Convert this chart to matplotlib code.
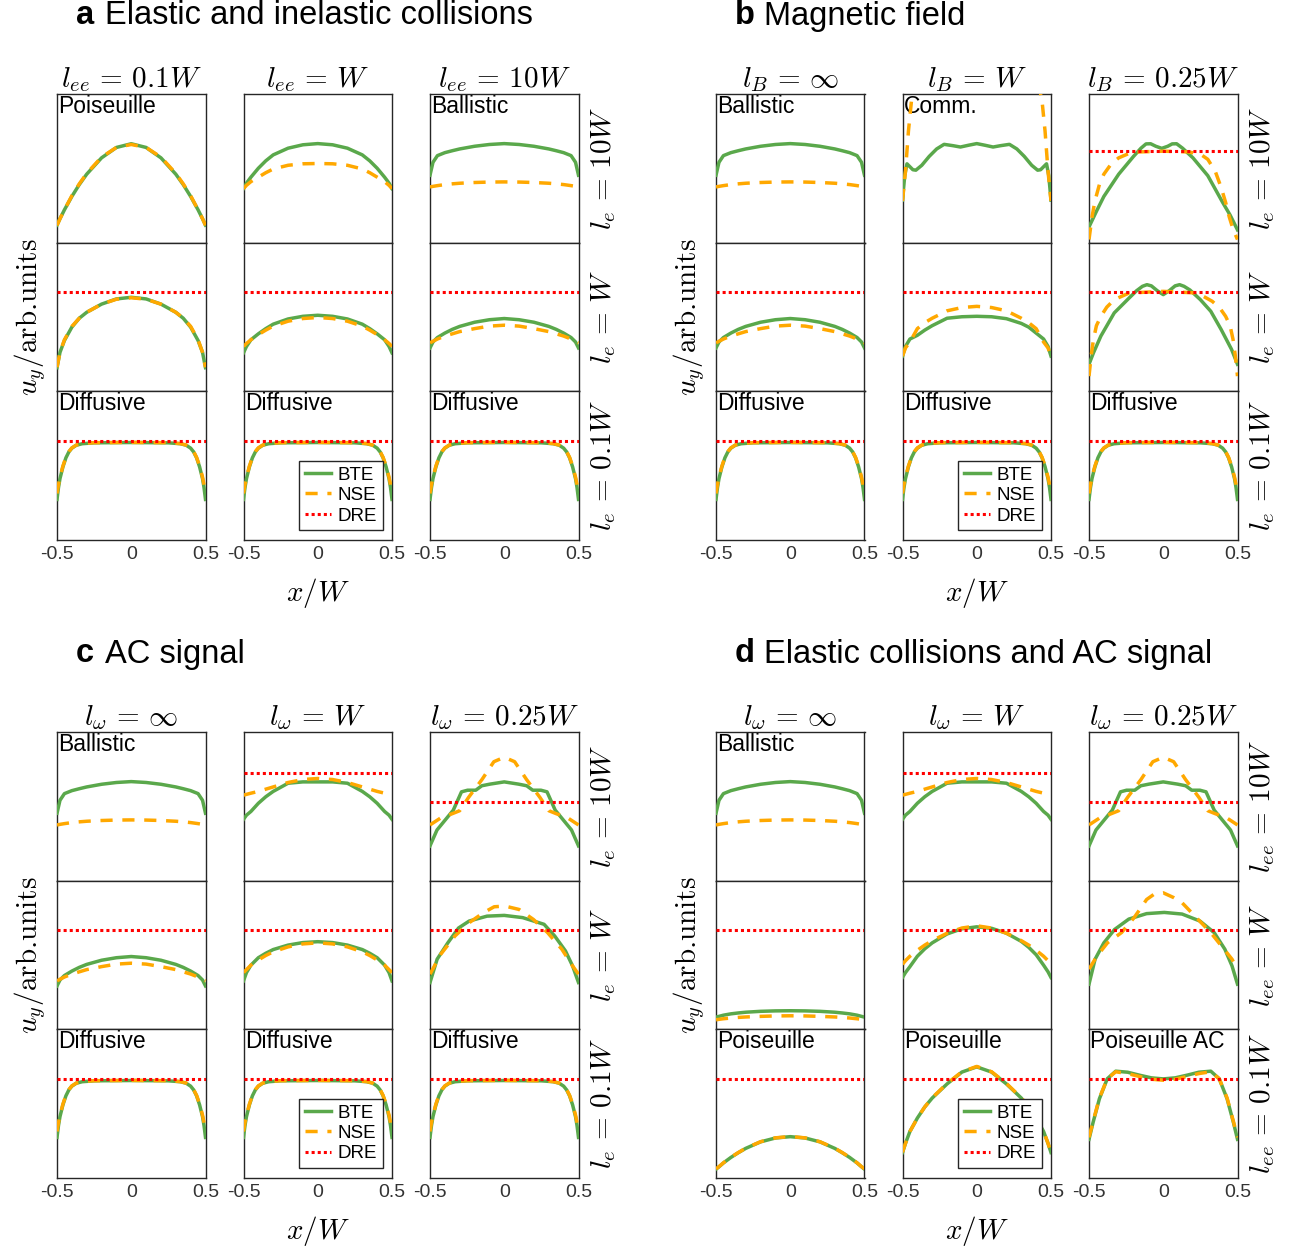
import matplotlib
matplotlib.use("Agg")
import matplotlib.pyplot as plt

plt.rcParams["font.family"] = "Liberation Sans"
plt.rcParams["mathtext.fontset"] = "cm"

# --- profiles u_y(x/W), box-normalised (0 = bottom, 1 = top) ---

# common sample positions across the channel
X = [-0.5, -0.48, -0.45, -0.4, -0.35, -0.3, -0.2, -0.1, 0.0, 0.1, 0.2, 0.3, 0.35, 0.4, 0.45, 0.48, 0.5]
# finer positions near the walls for the diffusive profiles
X_DIFF = [-0.5, -0.49, -0.48, -0.46, -0.44, -0.42, -0.4, -0.37, -0.33, -0.25, 0.0,
          0.25, 0.33, 0.37, 0.4, 0.42, 0.44, 0.46, 0.48, 0.49, 0.5]

POIS_BTE = [0.117, 0.16, 0.22, 0.31, 0.39, 0.46, 0.57, 0.64, 0.665, 0.64, 0.57, 0.46, 0.39, 0.31, 0.22, 0.16, 0.117]
POIS_NSE = [0.115, 0.16, 0.22, 0.315, 0.395, 0.465, 0.575, 0.64, 0.66, 0.64, 0.575, 0.465, 0.395, 0.315, 0.22, 0.16, 0.115]

A12_BTE = [0.363, 0.40, 0.44, 0.50, 0.55, 0.59, 0.635, 0.658, 0.666, 0.658, 0.635, 0.59, 0.55, 0.50, 0.44, 0.40, 0.363]
A12_NSE = [0.363, 0.385, 0.41, 0.44, 0.47, 0.495, 0.52, 0.53, 0.532, 0.53, 0.52, 0.495, 0.47, 0.44, 0.41, 0.385, 0.363]

BALL_BTE = [0.453, 0.54, 0.585, 0.605, 0.618, 0.63, 0.648, 0.66, 0.666, 0.66, 0.648, 0.63, 0.618, 0.605, 0.585, 0.54, 0.453]
BALL_NSE = [0.374, 0.378, 0.383, 0.39, 0.395, 0.399, 0.404, 0.407, 0.408, 0.407, 0.404, 0.399, 0.395, 0.39, 0.383, 0.378, 0.374]

A21_BTE = [0.157, 0.26, 0.34, 0.43, 0.49, 0.53, 0.585, 0.62, 0.631, 0.62, 0.585, 0.53, 0.49, 0.43, 0.34, 0.26, 0.157]
A21_NSE = [0.16, 0.26, 0.345, 0.435, 0.49, 0.53, 0.585, 0.618, 0.628, 0.618, 0.585, 0.53, 0.49, 0.435, 0.345, 0.26, 0.16]

A22_BTE = [0.257, 0.30, 0.345, 0.385, 0.42, 0.45, 0.485, 0.503, 0.51, 0.503, 0.485, 0.45, 0.42, 0.385, 0.345, 0.30, 0.257]
A22_NSE = [0.30, 0.32, 0.345, 0.38, 0.41, 0.437, 0.47, 0.488, 0.495, 0.488, 0.47, 0.437, 0.41, 0.38, 0.345, 0.32, 0.30]

WEAK_BTE = [0.29, 0.33, 0.36, 0.39, 0.415, 0.435, 0.463, 0.48, 0.488, 0.48, 0.463, 0.435, 0.415, 0.39, 0.36, 0.33, 0.29]
WEAK_NSE = [0.324, 0.335, 0.35, 0.37, 0.385, 0.40, 0.42, 0.437, 0.443, 0.437, 0.42, 0.40, 0.385, 0.37, 0.35, 0.335, 0.324]

DIFF_BTE = [0.27, 0.35, 0.41, 0.49, 0.55, 0.59, 0.615, 0.635, 0.645, 0.651, 0.653,
            0.651, 0.645, 0.635, 0.615, 0.59, 0.55, 0.49, 0.41, 0.35, 0.27]
DIFF_NSE = [0.31, 0.37, 0.42, 0.495, 0.553, 0.592, 0.617, 0.636, 0.646, 0.652, 0.654,
            0.652, 0.646, 0.636, 0.617, 0.592, 0.553, 0.495, 0.42, 0.37, 0.31]

# magnetic field
COMM_X = [-0.5, -0.485, -0.47, -0.45, -0.43, -0.41, -0.37, -0.32, -0.27, -0.22, -0.16, -0.11, -0.055, 0.0,
          0.055, 0.11, 0.16, 0.22, 0.27, 0.32, 0.37, 0.41, 0.43, 0.45, 0.47, 0.485, 0.5]
COMM_BTE = [0.285, 0.45, 0.53, 0.51, 0.49, 0.487, 0.52, 0.58, 0.63, 0.661, 0.652, 0.643, 0.655, 0.666,
            0.655, 0.643, 0.652, 0.661, 0.63, 0.58, 0.52, 0.487, 0.49, 0.51, 0.53, 0.45, 0.285]
COMM_NSE_X = [-0.5, -0.48, -0.46, -0.44, -0.42, -0.3, 0.0, 0.3, 0.42, 0.44, 0.46, 0.48, 0.5]
COMM_NSE = [0.28, 0.48, 0.75, 0.95, 1.05, 1.6, 2.0, 1.6, 1.05, 0.95, 0.75, 0.48, 0.28]

B13_X = [-0.5, -0.45, -0.4, -0.3, -0.2, -0.15, -0.116, -0.085, -0.05, -0.01, 0.03, 0.06, 0.09, 0.13, 0.2, 0.3, 0.4, 0.45, 0.5]
B13_BTE = [0.105, 0.21, 0.31, 0.46, 0.58, 0.635, 0.664, 0.665, 0.648, 0.634, 0.648, 0.664, 0.665, 0.635,
           0.57, 0.45, 0.27, 0.185, 0.085]
B13_NSE_X = [-0.5, -0.48, -0.46, -0.43, -0.4, -0.35, -0.3, -0.23, -0.16, 0.0, 0.17, 0.25, 0.3, 0.35, 0.39, 0.42, 0.445, 0.47, 0.5]
B13_NSE = [0.02, 0.17, 0.28, 0.39, 0.46, 0.53, 0.57, 0.6, 0.61, 0.615, 0.61, 0.595, 0.56, 0.48, 0.37, 0.27, 0.17, 0.09, 0.02]

B22_BTE = [0.235, 0.30, 0.35, 0.375, 0.41, 0.44, 0.49, 0.50, 0.503, 0.50, 0.487, 0.455, 0.43, 0.39, 0.35, 0.30, 0.235]
B22_NSE = [0.235, 0.29, 0.33, 0.42, 0.46, 0.49, 0.54, 0.562, 0.57, 0.562, 0.54, 0.49, 0.46, 0.42, 0.33, 0.29, 0.235]

B23_X = [-0.5, -0.47, -0.42, -0.33, -0.23, -0.18, -0.14, -0.11, -0.08, -0.04, 0.0, 0.04, 0.08, 0.11, 0.14,
         0.18, 0.25, 0.32, 0.39, 0.46, 0.5]
B23_BTE = [0.18, 0.257, 0.37, 0.526, 0.626, 0.675, 0.705, 0.716, 0.708, 0.675, 0.649, 0.675, 0.708, 0.716, 0.705,
           0.68, 0.615, 0.537, 0.414, 0.28, 0.18]
B23_NSE_X = [-0.5, -0.485, -0.47, -0.45, -0.42, -0.38, -0.33, -0.23, 0.0, 0.23, 0.33, 0.38, 0.42, 0.45, 0.47, 0.485, 0.5]
B23_NSE = [0.10, 0.24, 0.347, 0.44, 0.503, 0.565, 0.615, 0.66, 0.671, 0.66, 0.604, 0.56, 0.503, 0.44, 0.347, 0.24, 0.10]

# AC signal
C12_BTE = [0.412, 0.44, 0.465, 0.52, 0.564, 0.60, 0.655, 0.664, 0.664, 0.664, 0.655, 0.60, 0.564, 0.52, 0.465, 0.44, 0.412]
C12_NSE = [0.575, 0.58, 0.588, 0.60, 0.615, 0.63, 0.66, 0.68, 0.687, 0.68, 0.66, 0.63, 0.615, 0.60, 0.588, 0.58, 0.575]

C13_X = [-0.5, -0.453, -0.398, -0.343, -0.288, -0.247, -0.192, -0.151, -0.096, 0.0,
         0.096, 0.151, 0.192, 0.247, 0.288, 0.343, 0.398, 0.453, 0.5]
C13_BTE = [0.233, 0.34, 0.407, 0.474, 0.597, 0.608, 0.608, 0.638, 0.649, 0.664,
           0.649, 0.638, 0.608, 0.608, 0.597, 0.474, 0.407, 0.34, 0.233]
C13_NSE_X = [-0.5, -0.43, -0.35, -0.3, -0.24, -0.15, -0.07, 0.0, 0.07, 0.15, 0.24, 0.3, 0.35, 0.43, 0.5]
C13_NSE = [0.374, 0.42, 0.45, 0.47, 0.56, 0.68, 0.80, 0.83, 0.80, 0.68, 0.56, 0.47, 0.45, 0.42, 0.374]

C22_BTE = [0.324, 0.38, 0.43, 0.48, 0.51, 0.535, 0.565, 0.582, 0.588, 0.582, 0.565, 0.535, 0.51, 0.48, 0.43, 0.38, 0.324]
C22_NSE = [0.38, 0.40, 0.43, 0.465, 0.495, 0.52, 0.553, 0.573, 0.58, 0.573, 0.553, 0.52, 0.495, 0.465, 0.43, 0.40, 0.38]

C23_X = [-0.5, -0.452, -0.38, -0.308, -0.236, -0.116, 0.0, 0.124, 0.268, 0.34, 0.412, 0.46, 0.5]
C23_BTE = [0.313, 0.47, 0.58, 0.68, 0.727, 0.76, 0.765, 0.75, 0.705, 0.626, 0.526, 0.425, 0.313]
C23_NSE_X = [-0.5, -0.428, -0.332, -0.236, -0.14, -0.068, 0.004, 0.1, 0.196, 0.292, 0.388, 0.46, 0.5]
C23_NSE = [0.369, 0.503, 0.626, 0.716, 0.783, 0.823, 0.828, 0.805, 0.738, 0.649, 0.537, 0.425, 0.369]

# elastic collisions and AC signal
D21_BTE = [0.08, 0.085, 0.093, 0.102, 0.108, 0.113, 0.119, 0.122, 0.123, 0.122, 0.119, 0.113, 0.108, 0.102, 0.093, 0.085, 0.08]
D21_NSE = [0.062, 0.065, 0.069, 0.074, 0.078, 0.081, 0.085, 0.088, 0.089, 0.088, 0.085, 0.081, 0.078, 0.074, 0.069, 0.065, 0.062]

D22_BTE = [0.347, 0.38, 0.42, 0.49, 0.54, 0.58, 0.64, 0.675, 0.688, 0.678, 0.645, 0.59, 0.55, 0.50, 0.43, 0.385, 0.347]
D22_NSE = [0.436, 0.46, 0.49, 0.53, 0.565, 0.595, 0.645, 0.68, 0.695, 0.68, 0.645, 0.595, 0.565, 0.53, 0.49, 0.46, 0.436]

D23_X = [-0.5, -0.459, -0.4, -0.328, -0.232, -0.112, 0.007, 0.127, 0.247, 0.343, 0.415, 0.463, 0.5]
D23_BTE = [0.302, 0.47, 0.58, 0.67, 0.74, 0.777, 0.785, 0.774, 0.727, 0.649, 0.537, 0.425, 0.302]
D23_NSE_X = [-0.5, -0.447, -0.376, -0.28, -0.196, -0.112, -0.064, 0.0, 0.07, 0.127, 0.223, 0.319, 0.391, 0.463, 0.5]
D23_NSE = [0.403, 0.49, 0.58, 0.65, 0.75, 0.872, 0.906, 0.917, 0.885, 0.85, 0.75, 0.65, 0.56, 0.47, 0.403]

D31_BTE = [0.056, 0.072, 0.098, 0.135, 0.167, 0.196, 0.24, 0.266, 0.275, 0.266, 0.24, 0.196, 0.167, 0.135, 0.098, 0.072, 0.056]
D31_NSE = [0.058, 0.073, 0.099, 0.136, 0.168, 0.197, 0.241, 0.267, 0.276, 0.267, 0.241, 0.197, 0.168, 0.136, 0.099, 0.073, 0.058]

D32_BTE = [0.168, 0.23, 0.31, 0.40, 0.475, 0.535, 0.63, 0.71, 0.745, 0.71, 0.63, 0.535, 0.475, 0.40, 0.31, 0.23, 0.168]
D32_NSE = [0.17, 0.23, 0.31, 0.40, 0.475, 0.537, 0.633, 0.712, 0.748, 0.712, 0.633, 0.537, 0.475, 0.40, 0.31, 0.23, 0.17]

D33_X = [-0.5, -0.473, -0.43, -0.377, -0.32, -0.24, -0.16, -0.08, 0.0, 0.08, 0.16, 0.24, 0.32, 0.377, 0.43, 0.473, 0.5]
D33_BTE = [0.257, 0.369, 0.53, 0.665, 0.716, 0.709, 0.689, 0.671, 0.664, 0.671, 0.689, 0.709, 0.716, 0.665, 0.53, 0.369, 0.257]
D33_NSE = [0.27, 0.375, 0.535, 0.665, 0.712, 0.70, 0.68, 0.662, 0.655, 0.662, 0.68, 0.70, 0.712, 0.665, 0.535, 0.375, 0.27]

# DRE levels (None: off the scale)
DRE_ROW2 = 0.669
DRE_ROW3 = 0.663

XTICKS = [-0.5, 0, 0.5]
XTICKLABELS = ["-0.5", "0", "0.5"]

GREEN = "#5aa84b"
ORANGE = "#ffa800"
RED = "#ff0000"
GREY = "#262626"


def cell(xb, yb, xn, yn, dre=None, tag=None):
    return dict(xb=xb, yb=yb, xn=xn, yn=yn, dre=dre, tag=tag)


PANELS = [
    dict(letter="a", title="Elastic and inelastic collisions", origin=(57, 94),
         cols=[r"$l_{ee}\,=\,0.1W$", r"$l_{ee}\,=\,W$", r"$l_{ee}\,=\,10W$"],
         rows=[r"$l_e\,=\,10W$", r"$l_e\,=\,W$", r"$l_e\,=\,0.1W$"],
         cells=[cell(X, POIS_BTE, X, POIS_NSE, None, "Poiseuille"),
                cell(X, A12_BTE, X, A12_NSE),
                cell(X, BALL_BTE, X, BALL_NSE, None, "Ballistic"),
                cell(X, A21_BTE, X, A21_NSE, DRE_ROW2),
                cell(X, A22_BTE, X, A22_NSE, DRE_ROW2),
                cell(X, WEAK_BTE, X, WEAK_NSE, DRE_ROW2),
                cell(X_DIFF, DIFF_BTE, X_DIFF, DIFF_NSE, DRE_ROW3, "Diffusive"),
                cell(X_DIFF, DIFF_BTE, X_DIFF, DIFF_NSE, DRE_ROW3, "Diffusive"),
                cell(X_DIFF, DIFF_BTE, X_DIFF, DIFF_NSE, DRE_ROW3, "Diffusive")]),
    dict(letter="b", title="Magnetic field", origin=(716, 94),
         cols=[r"$l_B\,=\,\infty$", r"$l_B\,=\,W$", r"$l_B\,=\,0.25W$"],
         rows=[r"$l_e\,=\,10W$", r"$l_e\,=\,W$", r"$l_e\,=\,0.1W$"],
         cells=[cell(X, BALL_BTE, X, BALL_NSE, None, "Ballistic"),
                cell(COMM_X, COMM_BTE, COMM_NSE_X, COMM_NSE, None, "Comm."),
                cell(B13_X, B13_BTE, B13_NSE_X, B13_NSE, 0.617),
                cell(X, WEAK_BTE, X, WEAK_NSE, DRE_ROW2),
                cell(X, B22_BTE, X, B22_NSE, DRE_ROW2),
                cell(B23_X, B23_BTE, B23_NSE_X, B23_NSE, DRE_ROW2),
                cell(X_DIFF, DIFF_BTE, X_DIFF, DIFF_NSE, DRE_ROW3, "Diffusive"),
                cell(X_DIFF, DIFF_BTE, X_DIFF, DIFF_NSE, DRE_ROW3, "Diffusive"),
                cell(X_DIFF, DIFF_BTE, X_DIFF, DIFF_NSE, DRE_ROW3, "Diffusive")]),
    dict(letter="c", title="AC signal", origin=(57, 732),
         cols=[r"$l_\omega\,=\,\infty$", r"$l_\omega\,=\,W$", r"$l_\omega\,=\,0.25W$"],
         rows=[r"$l_e\,=\,10W$", r"$l_e\,=\,W$", r"$l_e\,=\,0.1W$"],
         cells=[cell(X, BALL_BTE, X, BALL_NSE, None, "Ballistic"),
                cell(X, C12_BTE, X, C12_NSE, 0.727),
                cell(C13_X, C13_BTE, C13_NSE_X, C13_NSE, 0.526),
                cell(X, WEAK_BTE, X, WEAK_NSE, DRE_ROW2),
                cell(X, C22_BTE, X, C22_NSE, DRE_ROW2),
                cell(C23_X, C23_BTE, C23_NSE_X, C23_NSE, DRE_ROW2),
                cell(X_DIFF, DIFF_BTE, X_DIFF, DIFF_NSE, DRE_ROW3, "Diffusive"),
                cell(X_DIFF, DIFF_BTE, X_DIFF, DIFF_NSE, DRE_ROW3, "Diffusive"),
                cell(X_DIFF, DIFF_BTE, X_DIFF, DIFF_NSE, DRE_ROW3, "Diffusive")]),
    dict(letter="d", title="Elastic collisions and AC signal", origin=(716, 732),
         cols=[r"$l_\omega\,=\,\infty$", r"$l_\omega\,=\,W$", r"$l_\omega\,=\,0.25W$"],
         rows=[r"$l_{ee}\,=\,10W$", r"$l_{ee}\,=\,W$", r"$l_{ee}\,=\,0.1W$"],
         cells=[cell(X, BALL_BTE, X, BALL_NSE, None, "Ballistic"),
                cell(X, C12_BTE, X, C12_NSE, 0.727),
                cell(C13_X, C13_BTE, C13_NSE_X, C13_NSE, 0.526),
                cell(X, D21_BTE, X, D21_NSE, DRE_ROW2),
                cell(X, D22_BTE, X, D22_NSE, DRE_ROW2),
                cell(D23_X, D23_BTE, D23_NSE_X, D23_NSE, DRE_ROW2),
                cell(X, D31_BTE, X, D31_NSE, DRE_ROW3, "Poiseuille"),
                cell(X, D32_BTE, X, D32_NSE, DRE_ROW3, "Poiseuille"),
                cell(D33_X, D33_BTE, D33_X, D33_NSE, DRE_ROW3, "Poiseuille AC")]),
]

W, H = 1290, 1249
fig = plt.figure(figsize=(W / 100, H / 100), dpi=100)

BOX = 148.5      # box size in pixels
COL_STEP = 186.5  # distance between left edges of the columns


def fx(px):
    return px / W


def fy(py):
    return 1 - py / H


for p in PANELS:
    x0, y0 = p["origin"]
    for k, c in enumerate(p["cells"]):
        r, j = divmod(k, 3)
        left = x0 + j * COL_STEP
        top = y0 + r * BOX
        ax = fig.add_axes([fx(left), fy(top + BOX), BOX / W, BOX / H])
        ax.plot(c["xb"], c["yb"], color=GREEN, lw=2.5, label="BTE", zorder=3)
        ax.plot(c["xn"], c["yn"], color=ORANGE, lw=2.5, ls=(0, (3.5, 2.8)), label="NSE", zorder=4)
        if c["dre"] is not None:
            ax.axhline(c["dre"], color=RED, lw=2.2, ls=(0, (1, 1)), label="DRE", zorder=5)
        ax.set_xlim(-0.5, 0.5)
        ax.set_ylim(0, 1)
        ax.set_yticks([])
        if r == 2:
            ax.set_xticks(XTICKS)
            ax.set_xticklabels(XTICKLABELS, fontsize=14, color="#333333")
            ax.tick_params(axis="x", length=0, pad=5)
        else:
            ax.set_xticks([])
        for s in ax.spines.values():
            s.set_color(GREY)
            s.set_linewidth(1.0)
        if c["tag"]:
            ax.text(0.01, 0.995, c["tag"], transform=ax.transAxes, ha="left", va="top",
                    fontsize=16.5, zorder=2)
        if r == 0:
            ax.set_title(p["cols"][j], fontsize=21, pad=3)
        if j == 2:
            ax.text(1.17, 0.5, p["rows"][r], transform=ax.transAxes, rotation=90,
                    ha="center", va="center", fontsize=21)
        if r == 2 and j == 1:
            leg = ax.legend(loc="lower right", fontsize=13.5, handlelength=1.4,
                            handletextpad=0.35, labelspacing=0.18, borderpad=0.3,
                            borderaxespad=0.5, fancybox=False, framealpha=1)
            leg.get_frame().set_edgecolor(GREY)
            leg.get_frame().set_linewidth(1.0)

    # panel heading, axis labels
    fig.text(fx(x0 + 19), fy(y0 - 78), p["letter"], fontsize=23.5, fontweight="bold",
             ha="left", va="center")
    fig.text(fx(x0 + 48), fy(y0 - 78), p["title"], fontsize=23.5, ha="left", va="center")
    fig.text(fx(x0 - 27), fy(y0 + 1.5 * BOX), r"$u_y/$arb.units", family="cmr10", rotation=90,
             fontsize=21, ha="center", va="center")
    fig.text(fx(x0 + COL_STEP + BOX / 2), fy(y0 + 3 * BOX + 53), r"$x/W$",
             fontsize=21, ha="center", va="center")

fig.savefig("out.png", dpi=100)
